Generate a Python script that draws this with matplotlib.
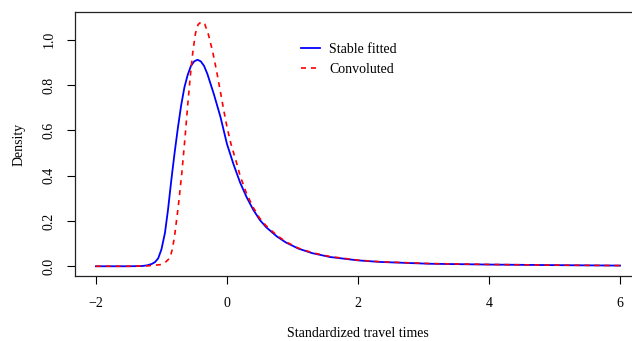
import matplotlib
matplotlib.use("Agg")
import matplotlib.pyplot as plt

# values
stable_x = [-2.0, -1.5, -1.3, -1.22, -1.15, -1.1, -1.05, -1.0, -0.947, -0.9,
            -0.85, -0.8, -0.75, -0.7, -0.65, -0.6, -0.55, -0.5, -0.45, -0.4,
            -0.35, -0.3, -0.2, -0.1, 0.0, 0.1, 0.2, 0.3, 0.4, 0.5,
            0.6, 0.76, 0.9, 1.09, 1.3, 1.57, 2.0, 2.34, 3.1, 4.0, 5.0, 6.0]
stable_y = [0.0, 0.0, 0.001, 0.004, 0.01, 0.018, 0.035, 0.075, 0.147, 0.25,
            0.38, 0.50, 0.61, 0.71, 0.79, 0.845, 0.885, 0.905, 0.912, 0.905,
            0.885, 0.85, 0.76, 0.66, 0.54, 0.45, 0.37, 0.305, 0.25, 0.205,
            0.172, 0.132, 0.105, 0.078, 0.058, 0.041, 0.026, 0.019, 0.011, 0.0075, 0.005, 0.003]

conv_x = [-2.0, -1.5, -1.2, -1.02, -0.95, -0.87, -0.83, -0.794, -0.74, -0.69,
          -0.64, -0.6, -0.56, -0.52, -0.48, -0.44, -0.39, -0.34, -0.285, -0.22,
          -0.157, -0.1, -0.05, 0.0, 0.061, 0.148, 0.2, 0.3, 0.4, 0.5,
          0.6, 0.76, 0.9, 1.09, 1.3, 1.57, 2.0, 2.34, 3.1, 4.0, 5.0, 6.0]
conv_y = [0.0, 0.0, 0.002, 0.007, 0.015, 0.037, 0.08, 0.147, 0.272, 0.41,
          0.57, 0.71, 0.84, 0.95, 1.03, 1.068, 1.08, 1.07, 1.025, 0.95,
          0.86, 0.77, 0.69, 0.615, 0.54, 0.455, 0.40, 0.32, 0.26, 0.212,
          0.178, 0.137, 0.108, 0.08, 0.06, 0.043, 0.027, 0.02, 0.012, 0.008, 0.005, 0.003]

x_ticks = [-2, 0, 2, 4, 6]
y_ticks = [0.0, 0.2, 0.4, 0.6, 0.8, 1.0]

plt.rcParams['font.family'] = ['Liberation Serif', 'DejaVu Serif']
plt.rcParams['font.size'] = 10

fig = plt.figure(figsize=(6.32, 3.41), dpi=100)
ax = fig.add_axes([75 / 632, 1 - 276 / 341, 566 / 632, 264 / 341])

ax.plot(stable_x, stable_y, color='#0000ff', lw=1.3, label='Stable fitted')
ax.plot(conv_x, conv_y, color='#ff0000', lw=1.2, dashes=(3, 3), label='Convoluted')

ax.set_xlim(-2.32, 6.32)
ax.set_ylim(-0.043, 1.123)
ax.set_xticks(x_ticks)
ax.set_xticklabels(['\u22122', '0', '2', '4', '6'])
ax.set_yticks(y_ticks)
ax.set_yticklabels(['0.0', '0.2', '0.4', '0.6', '0.8', '1.0'], rotation=90, va='center')
ax.tick_params(direction='out', length=6, width=0.8)
ax.tick_params(axis='x', pad=9)
ax.tick_params(axis='y', pad=8)

for s in ax.spines.values():
    s.set_linewidth(0.9)
    s.set_color('#222222')

ax.set_xlabel('Standardized travel times', labelpad=12.5)
ax.set_ylabel('Density', labelpad=12)

ax.legend(loc='upper left', bbox_to_anchor=(0.399, 0.883), frameon=False,
          borderpad=0, borderaxespad=0, handlelength=1.35, handletextpad=0.7,
          labelspacing=0.5)

fig.savefig('out.png', dpi=100)
